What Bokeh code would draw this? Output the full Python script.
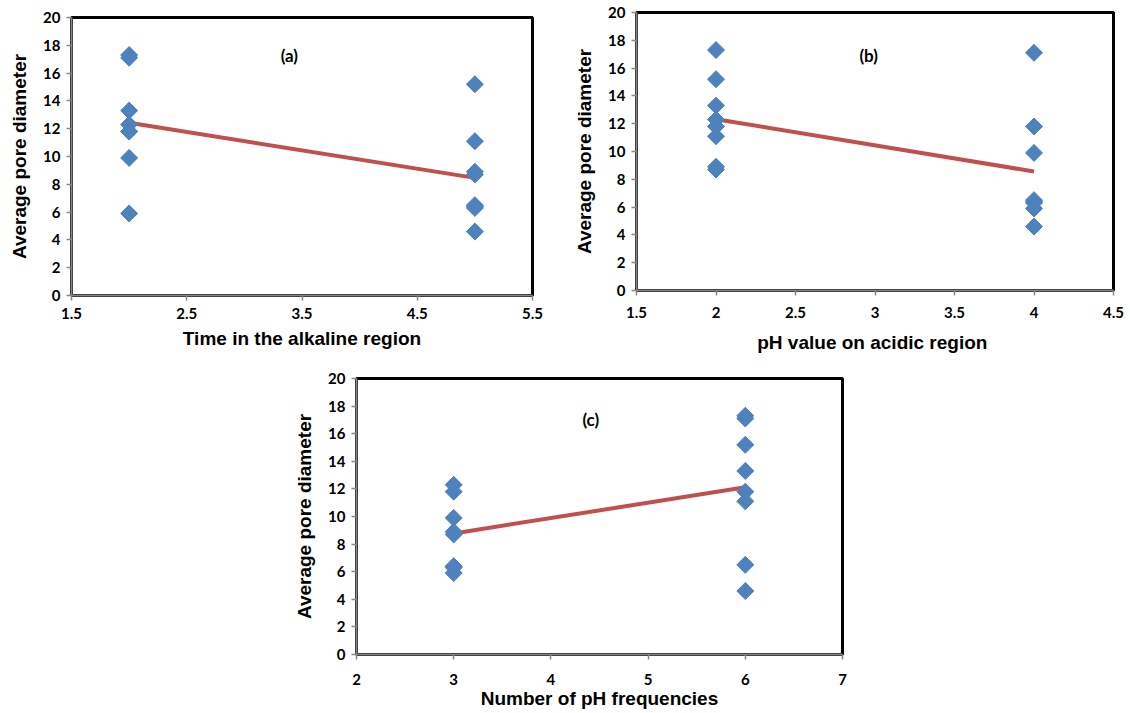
import numpy as np
from bokeh.plotting import figure
from bokeh.models import Label, FixedTicker, CustomJSTickFormatter, Spacer, Range1d
from bokeh.layouts import row, column
from bokeh.embed import file_html
from bokeh.resources import INLINE

# ---- data ----
a_x = [2, 2, 2, 2, 2, 2, 2, 2, 5, 5, 5, 5, 5, 5, 5, 5]
a_y = [17.3, 17.1, 13.3, 12.3, 11.8, 11.8, 9.9, 5.9,
       15.2, 11.1, 8.9, 8.7, 6.5, 6.4, 6.3, 4.6]
b_x = [2, 2, 2, 2, 2, 2, 2, 2, 4, 4, 4, 4, 4, 4, 4, 4]
b_y = [17.3, 15.2, 13.3, 12.3, 11.8, 11.1, 8.9, 8.7,
       17.1, 11.8, 9.9, 6.5, 6.4, 6.3, 5.9, 4.6]
c_x = [3, 3, 3, 3, 3, 3, 3, 3, 6, 6, 6, 6, 6, 6, 6, 6]
c_y = [12.3, 11.8, 9.9, 8.9, 8.7, 6.4, 6.3, 5.9,
       17.3, 17.1, 15.2, 13.3, 11.8, 11.1, 6.5, 4.6]

a_ticks = [1.5, 2.5, 3.5, 4.5, 5.5]
b_ticks = [1.5, 2, 2.5, 3, 3.5, 4, 4.5]
c_ticks = [2, 3, 4, 5, 6, 7]
y_ticks = [0, 2, 4, 6, 8, 10, 12, 14, 16, 18, 20]

MARKER = "#4F81BD"
LINE = "#C0504D"
AXIS_GRAY = "#868686"
TICK_FONT = "Lato"
TITLE_FONT = "Liberation Sans"


def make_panel(xs, ys, xr, xticks, xlabel, tag, tag_pos, width, height,
               bl, br, bt, bb, xstand, xlstand):
    p = figure(width=width, height=height, output_backend="svg", title=None,
               toolbar_location=None, x_range=Range1d(*xr), y_range=Range1d(0, 20),
               min_border_left=bl, min_border_right=br,
               min_border_top=bt, min_border_bottom=bb)
    p.xgrid.visible = False
    p.ygrid.visible = False
    p.outline_line_color = "black"
    p.outline_line_width = 3
    p.background_fill_color = "white"
    p.border_fill_color = "white"

    p.xaxis.ticker = FixedTicker(ticks=xticks)
    p.yaxis.ticker = FixedTicker(ticks=y_ticks)
    p.xaxis.formatter = CustomJSTickFormatter(code="return tick.toString()")
    p.yaxis.formatter = CustomJSTickFormatter(code="return tick.toString()")
    for ax in (p.xaxis, p.yaxis):
        ax.axis_line_color = AXIS_GRAY
        ax.axis_line_width = 2
        ax.major_tick_line_color = AXIS_GRAY
        ax.major_tick_line_width = 1.5
        ax.major_tick_out = 5
        ax.major_tick_in = 0
        ax.minor_tick_line_color = None
        ax.major_label_text_font = TICK_FONT
        ax.major_label_text_font_style = "bold"
        ax.major_label_text_font_size = "15px"
        ax.major_label_text_color = "black"
        ax.axis_label_text_font = TITLE_FONT
        ax.axis_label_text_font_style = "bold"
        ax.axis_label_text_font_size = "19px"
        ax.axis_label_text_color = "black"
    p.xaxis.axis_label = xlabel
    p.yaxis.axis_label = "Average pore diameter"
    p.xaxis.major_label_standoff = xstand
    p.xaxis.axis_label_standoff = xlstand
    p.yaxis.major_label_standoff = 6
    p.yaxis.axis_label_standoff = 10

    xs_arr = np.array(xs)
    ys_arr = np.array(ys)
    groups = sorted(set(xs))
    means = [ys_arr[xs_arr == g].mean() for g in groups]
    p.line(groups, means, line_color=LINE, line_width=4)
    p.scatter(xs, ys, marker="square", angle=np.pi / 4, size=12,
              fill_color=MARKER, line_color=MARKER)

    p.add_layout(Label(x=tag_pos[0], y=tag_pos[1], text=tag,
                       text_font=TICK_FONT, text_font_style="bold",
                       text_font_size="17px", text_align="center",
                       text_baseline="middle", text_color="black"))
    return p


pa = make_panel(a_x, a_y, (1.5, 5.5), a_ticks, "Time in the alkaline region",
                "(a)", (3.39, 17.3), 560, 357, 71, 28, 17, 62, 7, 6)
pb = make_panel(b_x, b_y, (1.5, 4.5), b_ticks, "pH  value on acidic region",
                "(b)", (2.96, 16.9), 570, 357, 76, 17, 12, 67, 11, 11)
pc = make_panel(c_x, c_y, (2, 7), c_ticks, "Number of pH frequencies",
                "(c)", (4.41, 17.0), 590, 354, 76, 28, 21, 53, 14, 0)

layout = column(row(column(pa), column(pb)), row(Spacer(width=280, height=354), pc))

open("out.html", "w").write(file_html(layout, INLINE))
